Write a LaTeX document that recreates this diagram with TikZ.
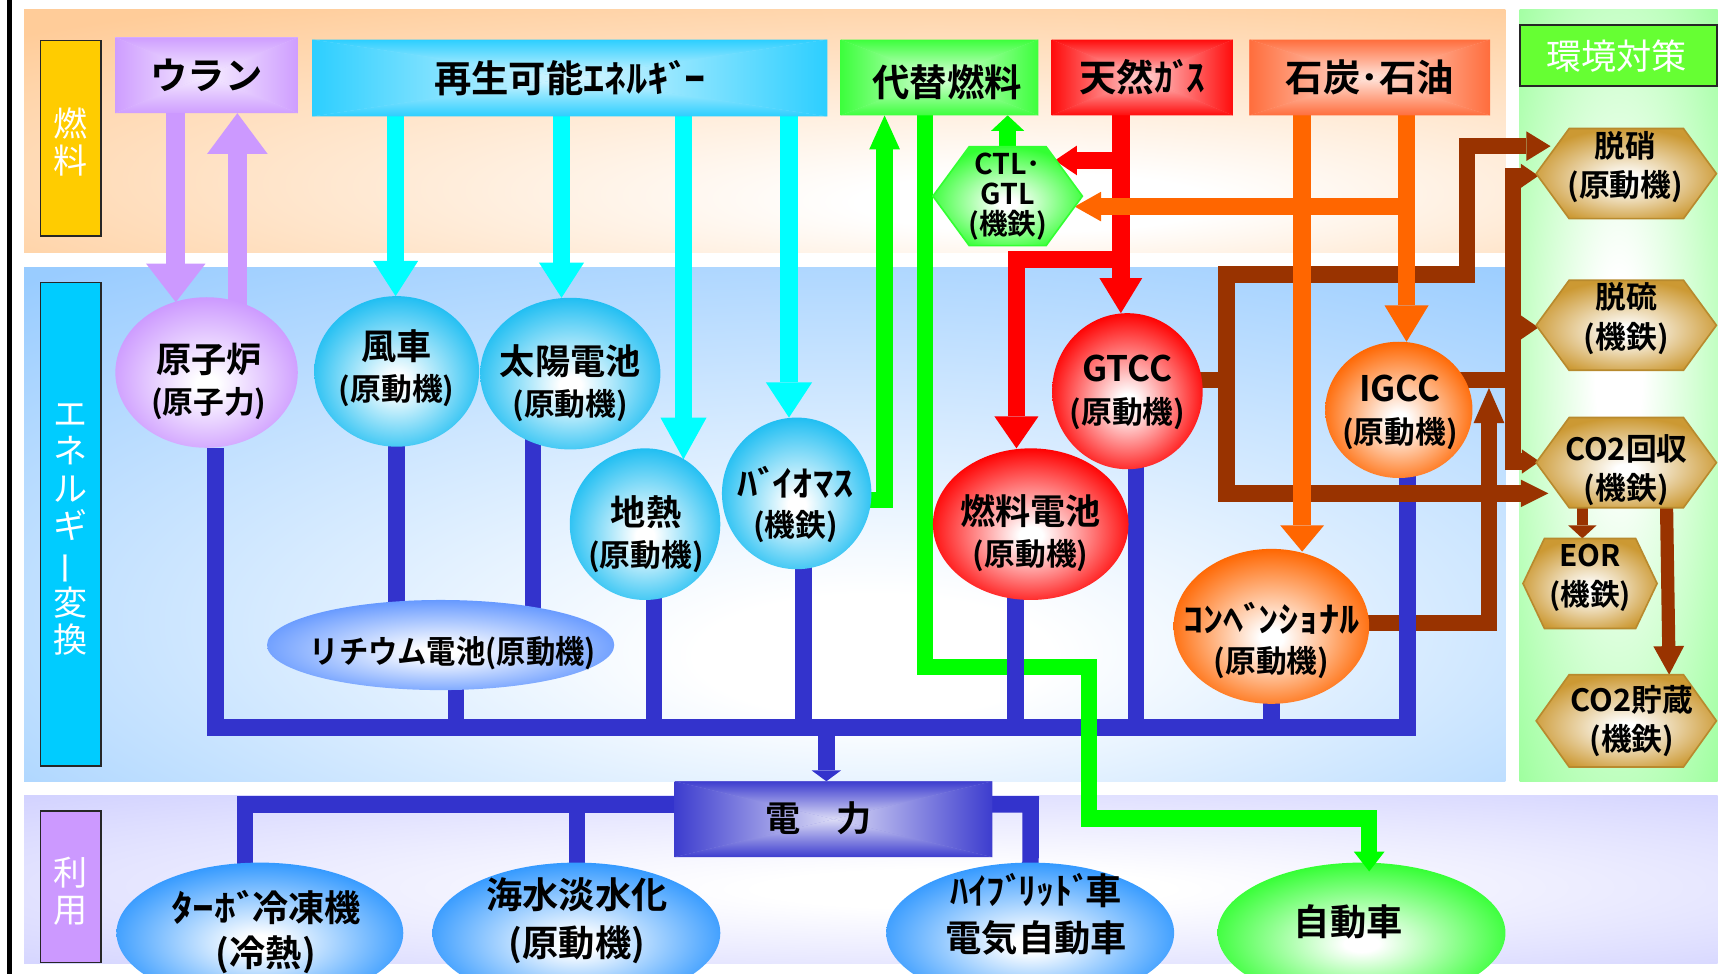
\documentclass[tikz,border=0pt]{standalone}
\usepackage{fontspec}
\newfontfamily\jpb{Noto Sans CJK JP Bold}
\newfontfamily\jpr{Noto Sans CJK JP}
\usetikzlibrary{arrows.meta,shapes.geometric,calc}
\newcommand\fsz[2]{\fontsize{#1}{#2}\selectfont}
\newcommand\hws[2]{\scalebox{#1}[1]{#2}}
\newcommand\dk{ﾞ\kern-0.14em}

\definecolor{cPeach}{HTML}{FFCC99}
\definecolor{cConv}{HTML}{99CCFF}
\definecolor{cEnv}{HTML}{99FF99}
\definecolor{cUse}{HTML}{CCCCFF}
\definecolor{cGold}{HTML}{FFCC00}
\definecolor{cLabE}{HTML}{00CCFF}
\definecolor{cLabU}{HTML}{CC99FF}
\definecolor{cKan}{HTML}{66FF33}
\definecolor{cPur}{HTML}{CC99FF}
\definecolor{cCya}{HTML}{00FFFF}
\definecolor{cSky}{HTML}{1FBEF2}
\definecolor{cBoxCyan}{HTML}{22CCFF}
\definecolor{cGrn}{HTML}{00FF00}
\definecolor{cGrnF}{HTML}{33FF33}
\definecolor{cRed}{HTML}{FF0000}
\definecolor{cOrg}{HTML}{FF6600}
\definecolor{cOrg2}{HTML}{FF6633}
\definecolor{cBrn}{HTML}{993300}
\definecolor{cBlu}{HTML}{3333CC}
\definecolor{cLith}{HTML}{6699FF}
\definecolor{cUseEl}{HTML}{3399FF}
\definecolor{cTan}{HTML}{CC9933}

\colorlet{elA}{red}\colorlet{pnA}{red}\colorlet{bxA}{red}
\pgfdeclareradialshading[elA]{elR}{\pgfpoint{0bp}{-4bp}}{color(0bp)=(white); color(3bp)=(white); color(27bp)=(elA); color(50bp)=(elA)}
\pgfdeclareradialshading[pnA]{pnF}{\pgfpoint{10bp}{-16bp}}{color(0bp)=(white); color(6bp)=(white); color(40bp)=(pnA); color(72bp)=(pnA)}
\pgfdeclareradialshading[pnA]{pnC}{\pgfpoint{4bp}{-14bp}}{color(0bp)=(white); color(6bp)=(white); color(40bp)=(pnA); color(72bp)=(pnA)}
\pgfdeclareradialshading[pnA]{pnE}{\pgfpoint{0bp}{2bp}}{color(0bp)=(white); color(6bp)=(white); color(38bp)=(pnA); color(72bp)=(pnA)}
\pgfdeclareradialshading[pnA]{pnU}{\pgfpoint{3bp}{-3bp}}{color(0bp)=(white); color(6bp)=(white); color(42bp)=(pnA); color(72bp)=(pnA)}
\pgfdeclareverticalshading[bxA]{bxT}{100bp}{color(0bp)=(white); color(14bp)=(white); color(78bp)=(bxA); color(100bp)=(bxA)}

\pgfdeclarelayer{panel}
\pgfdeclarelayer{conn}
\pgfdeclarelayer{shape}
\pgfdeclarelayer{front}
\pgfsetlayers{panel,conn,shape,main,front}

\newcommand\pyr[2]{%
  \colorlet{bxA}{#2}%
  \fill[#2!55!white] (#1.north west) rectangle (#1.south east);
  \shade[shading=bxT] (#1.north west) -- (#1.north east) -- (#1.center) -- cycle;
  \shade[shading=bxT,shading angle=180] (#1.south west) -- (#1.south east) -- (#1.center) -- cycle;
  \shade[shading=bxT,shading angle=90] (#1.north west) -- (#1.south west) -- (#1.center) -- cycle;
  \shade[shading=bxT,shading angle=270] (#1.north east) -- (#1.south east) -- (#1.center) -- cycle;
}
\newcommand\hexa[4]{%
  \colorlet{elA}{#3}%
  \path[shade,shading=elR,draw=#4,line width=1.5pt] (#1.west) -- ($(#1.north west)+(#2,0)$) -- ($(#1.north east)-(#2,0)$) -- (#1.east) -- ($(#1.south east)-(#2,0)$) -- ($(#1.south west)+(#2,0)$) -- cycle;
}

\begin{document}
\begin{tikzpicture}[x=1pt,y=-1pt,
  elcol/.code={\colorlet{elA}{#1}},
  ellip/.style={ellipse, inner sep=0pt, outer sep=0pt, shade, shading=elR, elcol=#1},
  hexn/.style={rectangle, inner sep=0pt, outer sep=0pt},
  fbox/.style={rectangle, inner sep=0pt, outer sep=0pt, font=\jpb\fsz{34}{40}},
  labbox/.style={rectangle, draw=black!85, line width=1.5pt, inner sep=0pt, outer sep=0pt},
  wtxt/.style={font=\jpr\fsz{31}{34}, text=white, align=center, inner sep=0pt},
  txt/.style={align=center, inner sep=0pt},
  e2/.style={txt, font=\jpb\fsz{32}{37}},
  h2/.style={txt, font=\jpb\fsz{28}{36}},
  u2/.style={txt, font=\jpb\fsz{33}{43}},
  cn/.style={line join=miter, line cap=butt},
  bluL/.style={cn, draw=cBlu, line width=15pt},
  grnL/.style={cn, draw=cGrn, line width=15pt},
  brnL/.style={cn, draw=cBrn, line width=15pt},
  redL/.style={cn, draw=cRed, line width=16pt},
  orgL/.style={cn, draw=cOrg, line width=16pt},
  purL/.style={cn, draw=cPur, line width=17pt},
  cyaL/.style={cn, draw=cCya, line width=16pt},
  ah/.style 2 args={-{Triangle[width=#1pt,length=#2pt,line width=0pt]}},
]
\useasboundingbox (0,0) rectangle (1568,886);

% ---------- category labels ----------
\node[labbox, fill=cGold, minimum width=55pt, minimum height=178pt] (labF) at (64.5,126) {};
\node[labbox, fill=cLabE, minimum width=55pt, minimum height=440pt] (labE) at (64.5,477) {};
\node[labbox, fill=cLabU, minimum width=55pt, minimum height=138pt] (labU) at (64.5,807) {};
\node[labbox, fill=cKan, minimum width=179pt, minimum height=55pt] (labK) at (1473,50.5) {};
\node[wtxt] (labFt) at (64.5,129) {燃\\料};
\node[wtxt] (labEt) at (64.5,482) {エ\\ネ\\ル\\ギ\\\rotatebox[origin=c]{90}{ー}\\変\\換};
\node[wtxt] (labUt) at (64.5,811) {利\\用};
\node[wtxt, font=\jpr\fsz{32}{36}] (labKt) at (1471,51) {環境対策};

% ---------- fuel boxes ----------
\node[fbox, minimum width=166pt, minimum height=69pt] (uran) at (188,68.5) {ウラン};
\node[fbox, minimum width=469pt, minimum height=70pt] (saisei) at (518.5,71) {再生可能\hws{1.14}{ｴﾈﾙｷ\dk ｰ}};
\node[fbox, minimum width=180pt, minimum height=69pt] (daitai) at (855,70.5) {};
\node[txt, font=\jpb\fsz{34}{40}] (daitaiT) at (862,75) {代替燃料};
\node[fbox, minimum width=165pt, minimum height=69pt] (tennen) at (1039.5,70.5) {天然ｶ\dk ｽ};
\node[fbox, minimum width=219pt, minimum height=69pt] (sekitan) at (1246.5,70.5) {石炭･石油};
\node[fbox, minimum width=289pt, minimum height=69pt] (denryoku) at (758.5,745.5) {};
\node[txt, font=\jpb\fsz{32}{36}] (denryokuT) at (745,745) {電　力};

% ---------- ellipses ----------
\node[ellip=cPur, minimum width=166pt, minimum height=137pt] (genshiro) at (188,339) {};
\node[ellip=cSky, minimum width=150pt, minimum height=137pt] (fusha) at (361,338) {};
\node[ellip=cSky, minimum width=164pt, minimum height=138pt] (taiyo) at (519,340) {};
\node[ellip=cSky, minimum width=137pt, minimum height=138pt] (chinetsu) at (587,477) {};
\node[ellip=cSky, minimum width=136pt, minimum height=138pt] (bio) at (725,449) {};
\node[ellip=cLith, minimum width=316pt, minimum height=82pt] (lith) at (401,587) {};
\node[ellip=cRed, minimum width=137pt, minimum height=142pt] (gtcc) at (1026,356) {};
\node[ellip=cRed, minimum width=178pt, minimum height=138pt] (nenryo) at (938,477) {};
\node[ellip=cOrg, minimum width=134pt, minimum height=124pt] (igcc) at (1273,373) {};
\node[ellip=cOrg, minimum width=178pt, minimum height=141pt] (conv) at (1157,570) {};
\node[ellip=cUseEl, minimum width=261pt, minimum height=128pt] (turbo) at (236.5,849) {};
\node[ellip=cUseEl, minimum width=262pt, minimum height=128pt] (kaisui) at (524.5,849) {};
\node[ellip=cUseEl, minimum width=262pt, minimum height=128pt] (hybrid) at (937.5,849) {};
\node[ellip=cGrnF, minimum width=262pt, minimum height=128pt] (jidosha) at (1239,849) {};

% ---------- hexagon placeholders ----------
\node[hexn, minimum width=136pt, minimum height=90pt] (ctl) at (917,178.5) {};
\node[hexn, minimum width=164pt, minimum height=82pt] (dassho) at (1480,158) {};
\node[hexn, minimum width=164pt, minimum height=82pt] (datsuryu) at (1480,296) {};
\node[hexn, minimum width=164pt, minimum height=82pt] (co2k) at (1480,421) {};
\node[hexn, minimum width=122pt, minimum height=82pt] (eor) at (1447,531) {};
\node[hexn, minimum width=164pt, minimum height=84pt] (co2c) at (1480,656) {};

% ---------- texts ----------
\node[e2] (genshiroT) at (190,347) {原子炉\\\fsz{28}{37}(原子力)};
\node[e2] (fushaT) at (361,335) {風車\\\fsz{28}{37}(原動機)};
\node[e2] (taiyoT) at (519,349) {太陽電池\\\fsz{28}{37}(原動機)};
\node[e2] (chinetsuT) at (588,486) {地熱\\\fsz{28}{37}(原動機)};
\node[e2] (bioT) at (724,459) {\hws{1.15}{ﾊ\dk ｲｵﾏｽ}\\\fsz{28}{37}(機鉄)};
\node[txt, font=\jpb\fsz{29}{34}] (lithT) at (412,594) {\hws{0.92}{リチウム電池(原動機)}};
\node[e2] (nenryoT) at (938,485) {燃料電池\\\fsz{28}{37}(原動機)};
\node[e2, font=\jpb\fsz{32}{38}] (gtccT) at (1026,357) {GTCC\\\fsz{28}{38}(原動機)};
\node[e2, font=\jpb\fsz{32}{38}] (igccT) at (1274,375) {IGCC\\\fsz{28}{38}(原動機)};
\node[e2] (convT) at (1157,583) {\hws{1.15}{ｺﾝﾍ\dk ﾝｼｮﾅﾙ}\\\fsz{28}{37}(原動機)};
\node[txt, font=\jpb\fsz{26}{27}] (ctlT) at (917,179) {CTL･\\GTL\\(機鉄)};
\node[h2] (dasshoT) at (1479,152) {脱硝\\(原動機)};
\node[h2] (datsuryuT) at (1480,290) {脱硫\\(機鉄)};
\node[h2] (co2kT) at (1480,428) {CO2回収\\(機鉄)};
\node[h2, font=\jpb\fsz{27}{35}] (eorT) at (1447,526) {EOR\\(機鉄)};
\node[h2] (co2cT) at (1485,656) {CO2貯蔵\\(機鉄)};
\node[u2, font=\jpb\fsz{33}{41}] (turboT) at (242,848) {\hws{1.2}{ﾀｰﾎ\dk}冷凍機\\(冷熱)};
\node[u2] (kaisuiT) at (525,838) {海水淡水化\\(原動機)};
\node[u2] (hybridT) at (943,832) {ﾊｲﾌ\dk ﾘｯﾄ\dk 車\\電気自動車};
\node[u2] (jidoshaT) at (1227,839) {自動車};

% ---------- named bend points ----------
\coordinate (busL) at (196,662);
\coordinate (busR) at (1281,662);
\coordinate (busA) at (752,662);
\coordinate (useL) at (223,732);
\coordinate (useM) at (525,732);
\coordinate (useR) at (938,732);
\coordinate (tyX) at (485,0);
\coordinate (liX) at (415,0);
\coordinate (chX) at (595,0);
\coordinate (bioX) at (731,0);
\coordinate (nenX) at (924,0);
\coordinate (gtX) at (1034,0);
\coordinate (g1) at (805,455);
\coordinate (g2a) at (842,607);
\coordinate (g2b) at (991,607);
\coordinate (g2c) at (991,745);
\coordinate (g2d) at (1246,745);
\coordinate (rX) at (1020,0);
\coordinate (r2) at (1020,146);
\coordinate (r2e) at (960,146);
\coordinate (r3) at (1020,236);
\coordinate (r3b) at (925,236);
\coordinate (oX1) at (1185,0);
\coordinate (oX2) at (1280,0);
\coordinate (o1e) at (1185,502);
\coordinate (o3) at (1280,188);
\coordinate (o3e) at (978,188);
\coordinate (pX1) at (160,0);
\coordinate (p1e) at (160,275);
\coordinate (pX2) at (216,0);
\coordinate (cX1) at (360,0);
\coordinate (cX2) at (511,0);
\coordinate (cX3) at (622,0);
\coordinate (cX4) at (718,0);
\coordinate (c2e) at (511,271);
\coordinate (c3e) at (622,418);
\coordinate (b1a) at (1116,346);
\coordinate (b1t) at (1116,250);
\coordinate (b1u) at (1335,250);
\coordinate (b1v) at (1335,133);
\coordinate (b1w) at (1116,449);
\coordinate (dsA) at (1411,133);
\coordinate (coA) at (1409,449);
\coordinate (b2a) at (1377,346);
\coordinate (b2t) at (1377,160);
\coordinate (b2m) at (1377,298);
\coordinate (b2b) at (1377,420);
\coordinate (dsB) at (1400,160);
\coordinate (drB) at (1400,298);
\coordinate (coB) at (1401,420);
\coordinate (b3a) at (1355,567);
\coordinate (b3b) at (1355,353);
\coordinate (eX) at (1440,0);
\coordinate (sX1) at (1516,0);
\coordinate (sX2) at (1519,0);

% ---------- panels ----------
\begin{pgfonlayer}{panel}
  \colorlet{pnA}{cPeach}\shade[shading=pnF] (22,9) rectangle (1370,230);
  \colorlet{pnA}{cConv}\shade[shading=pnC] (22,243) rectangle (1370,711);
  \colorlet{pnA}{cEnv}\shade[shading=pnE] (1383,9) rectangle (1563,711);
  \colorlet{pnA}{cUse}\shade[shading=pnU] (22,724) rectangle (1563,877);
  \draw[line width=4.5pt] (9,0) -- (9,886);
\end{pgfonlayer}

% ---------- connectors ----------
\begin{pgfonlayer}{conn}
  % conventional -> IGCC line (under the blue bus)
  \draw[brnL, ah={28}{32}] (conv.center |- b3a) -- (b3a) -- (b3b);
  % blue bus and use lines
  \draw[bluL] (genshiro.south -| busL) -- (busL) -- (busR) -- (igcc.center -| busR);
  \draw[bluL] (denryoku.center |- useL) -- (useL) -- (turbo.center -| useL);
  \draw[bluL] (useM) -- (kaisui.center -| useM);
  \draw[bluL] (denryoku.center |- useR) -- (useR) -- (hybrid.center);
  % green
  \draw[grnL, ah={28}{31}] (bio.center |- g1) -- (g1) -- (g1 |- daitai.south);
  \draw[grnL] (daitai.center -| g2a) -- (g2a) -- (g2b) -- (g2c) -- (g2d) -- ($(g2d)+(0,12)$);
  \draw[grnL, ah={30}{14}] (ctl.center) -- (ctl.center |- daitai.south);
  % blue verticals
  \draw[bluL] (fusha.center) -- (fusha.center |- lith.center);
  \draw[bluL] (taiyo.center -| tyX) -- (lith.center -| tyX);
  \draw[bluL] (lith.center -| liX) -- (busL -| liX);
  \draw[bluL] (chinetsu.center -| chX) -- (busL -| chX);
  \draw[bluL] (bio.center -| bioX) -- (busL -| bioX);
  \draw[bluL] (nenryo.center -| nenX) -- (busL -| nenX);
  \draw[bluL] (gtcc.center -| gtX) -- (busL -| gtX);
  \draw[bluL] (conv.center) -- (conv.center |- busL);
  \draw[bluL, ah={27}{10}] (busA) -- (busA |- denryoku.north);
  % brown
  \draw[brnL] (gtcc.center |- b1a) -- (b1a);
  \draw[brnL, {Triangle[width=27pt,length=22pt,line width=0pt]}-{Triangle[width=25pt,length=25pt,line width=0pt]}] (dsA) -- (b1v) -- (b1u) -- (b1t) -- (b1w) -- (coA);
  \draw[brnL] (igcc.center |- b2a) -- (b2a);
  \draw[brnL, {Triangle[width=22pt,length=16pt,line width=0pt]}-{Triangle[width=22pt,length=16pt,line width=0pt]}] (dsB) -- (b2t) -- (b2b) -- (coB);
  \draw[brnL, ah={22}{16}] (b2m) -- (drB);
  \draw[brnL, line width=10pt, ah={26}{12}] (co2k.center -| eX) -- (eor.north -| eX);
  \draw[brnL, line width=12pt, ah={28}{26}] (co2k.center -| sX1) -- (co2c.north -| sX2);
  % red
  \draw[redL, ah={39}{32}] (tennen.center -| rX) -- (gtcc.north -| rX);
  \draw[redL, ah={27}{20}] (r2) -- (r2e);
  \draw[redL, ah={40}{29}] (r3) -- (r3b) -- (r3b |- nenryo.north);
  % orange
  \draw[orgL, ah={40}{24}] (sekitan.center -| oX1) -- (o1e);
  \draw[orgL, ah={40}{33}] (sekitan.center -| oX2) -- (igcc.north -| oX2);
  \draw[orgL, ah={27}{24}] (o3) -- (o3e);
  % purple
  \draw[purL, ah={54}{35}] (uran.center -| pX1) -- (p1e);
  \draw[purL, ah={55}{37}] (genshiro.center -| pX2) -- (uran.south -| pX2);
  % cyan
  \draw[cyaL, ah={41}{32}] (saisei.center -| cX1) -- (fusha.north -| cX1);
  \draw[cyaL, ah={41}{32}] (saisei.center -| cX2) -- (c2e);
  \draw[cyaL, ah={42}{38}] (saisei.center -| cX3) -- (c3e);
  \draw[cyaL, ah={42}{32}] (saisei.center -| cX4) -- (bio.north -| cX4);
\end{pgfonlayer}

\begin{pgfonlayer}{front}
  \draw[grnL, ah={28}{18}] ($(g2d)+(0,4)$) -- ($(g2d |- jidosha.north)+(0,8)$);
\end{pgfonlayer}

% ---------- box and hexagon shadings ----------
\begin{pgfonlayer}{shape}
  \pyr{uran}{cPur}
  \pyr{saisei}{cBoxCyan}
  \pyr{daitai}{cGrnF}
  \pyr{tennen}{cRed}
  \pyr{sekitan}{cOrg2}
  \pyr{denryoku}{cBlu}
  \hexa{ctl}{33}{cGrnF}{cGrnF}
  \hexa{dassho}{30}{cTan}{cTan!90!black}
  \hexa{datsuryu}{30}{cTan}{cTan!90!black}
  \hexa{co2k}{30}{cTan}{cTan!90!black}
  \hexa{eor}{19.5}{cTan}{cTan!90!black}
  \hexa{co2c}{30}{cTan}{cTan!90!black}
\end{pgfonlayer}
\end{tikzpicture}
\end{document}
